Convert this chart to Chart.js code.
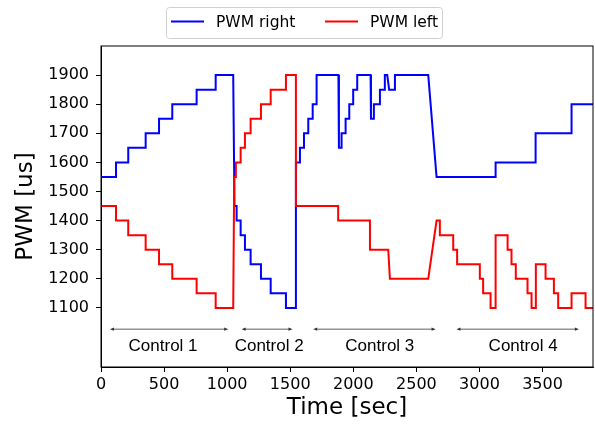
<!DOCTYPE html>
<html>
<head>
<meta charset="utf-8">
<script src="https://cdn.jsdelivr.net/npm/chart.js@4.4.1/dist/chart.umd.min.js"></script>
<style>
  html, body { margin: 0; padding: 0; background: #fff; }
  #pwmChart { display: block; }
</style>
</head>
<body>
<canvas id="pwmChart" width="595" height="424"></canvas>
<script>
// -------- DATA --------
const seriesNames = ['PWM right', 'PWM left'];
const seriesColors = ['#0000ff', '#ff0000'];

const rightTime = [0, 119, 119, 216, 216, 354, 354, 460, 460, 565, 565, 758, 758, 909, 909, 1048,
  1058, 1075, 1075, 1107, 1107, 1141, 1141, 1186, 1186, 1268, 1268, 1345, 1345, 1466, 1466, 1545,
  1545, 1577, 1577, 1609, 1609, 1643, 1643, 1678, 1678, 1709, 1709, 1882,
  1886, 1907, 1907, 1939, 1939, 1968, 1968, 1999, 1999, 2031, 2031, 2137,
  2140, 2163, 2163, 2211, 2211, 2250, 2250, 2269,
  2284, 2330, 2330, 2594,
  2660, 3128, 3128, 3445, 3445, 3730, 3730, 3900];
const rightPwm = [1550, 1550, 1600, 1600, 1650, 1650, 1700, 1700, 1750, 1750, 1800, 1800, 1850, 1850, 1900, 1900,
  1450, 1450, 1400, 1400, 1350, 1350, 1300, 1300, 1250, 1250, 1200, 1200, 1150, 1150, 1100, 1100,
  1600, 1600, 1650, 1650, 1700, 1700, 1750, 1750, 1800, 1800, 1900, 1900,
  1650, 1650, 1700, 1700, 1750, 1750, 1800, 1800, 1850, 1850, 1900, 1900,
  1750, 1750, 1800, 1800, 1850, 1850, 1900, 1900,
  1850, 1850, 1900, 1900,
  1550, 1550, 1600, 1600, 1700, 1700, 1800, 1800];

const leftTime = [0, 119, 119, 216, 216, 354, 354, 460, 460, 565, 565, 758, 758, 909, 909, 1048,
  1056, 1069, 1069, 1107, 1107, 1141, 1141, 1186, 1186, 1268, 1268, 1345, 1345, 1466, 1466, 1545,
  1545, 1880, 1880, 2132, 2132, 2277, 2290, 2594,
  2660, 2686, 2686, 2792, 2792, 2823, 2823, 3003, 3003, 3029, 3029, 3088, 3088, 3128,
  3128, 3223, 3223, 3254, 3254, 3288, 3288, 3381, 3381, 3413, 3413, 3447,
  3447, 3524, 3524, 3590, 3590, 3624, 3624, 3730, 3730, 3841, 3841, 3900];
const leftPwm = [1450, 1450, 1400, 1400, 1350, 1350, 1300, 1300, 1250, 1250, 1200, 1200, 1150, 1150, 1100, 1100,
  1550, 1550, 1600, 1600, 1650, 1650, 1700, 1700, 1750, 1750, 1800, 1800, 1850, 1850, 1900, 1900,
  1450, 1450, 1400, 1400, 1300, 1300, 1200, 1200,
  1400, 1400, 1350, 1350, 1300, 1300, 1250, 1250, 1200, 1200, 1150, 1150, 1100, 1100,
  1350, 1350, 1300, 1300, 1250, 1250, 1200, 1200, 1150, 1150, 1100, 1100,
  1250, 1250, 1200, 1200, 1150, 1150, 1100, 1100, 1150, 1150, 1100, 1100];

const xTicks = [0, 500, 1000, 1500, 2000, 2500, 3000, 3500];
const yTicks = [1100, 1200, 1300, 1400, 1500, 1600, 1700, 1800, 1900];

// control phases (time spans, label centre)
const controlLabels = ['Control 1', 'Control 2', 'Control 3', 'Control 4'];
const controlFrom = [71, 1115, 1682, 2818];
const controlTo = [1008, 1518, 2652, 3788];
const controlLabelX = [492, 1333, 2210, 3346];
const arrowLevel = 1027;
const labelLevel = 968;

const toPoints = (xs, ys) => xs.map((x, i) => ({ x, y: ys[i] }));

// -------- PLUGIN: spines, control arrows, boxed legend --------
const extras = {
  id: 'extras',
  afterDatasetsDraw(chart) {
    const { ctx, chartArea: a, scales: { x, y } } = chart;
    ctx.save();

    // control arrows
    ctx.strokeStyle = '#333';
    ctx.fillStyle = '#333';
    ctx.lineWidth = 0.8;
    const ay = y.getPixelForValue(arrowLevel);
    controlLabels.forEach((name, i) => {
      const x0 = x.getPixelForValue(controlFrom[i]);
      const x1 = x.getPixelForValue(controlTo[i]);
      ctx.beginPath();
      ctx.moveTo(x0 + 2, ay);
      ctx.lineTo(x1 - 2, ay);
      ctx.stroke();
      [[x0, 1], [x1, -1]].forEach(([px, d]) => {
        ctx.beginPath();
        ctx.moveTo(px, ay);
        ctx.lineTo(px + 4 * d, ay - 1.6);
        ctx.lineTo(px + 4 * d, ay + 1.6);
        ctx.closePath();
        ctx.fill();
      });
    });

    ctx.fillStyle = '#000';
    ctx.font = '17px "Liberation Sans", Arial, sans-serif';
    ctx.textAlign = 'center';
    ctx.textBaseline = 'middle';
    const ly = y.getPixelForValue(labelLevel);
    controlLabels.forEach((name, i) => {
      ctx.fillText(name, x.getPixelForValue(controlLabelX[i]), ly);
    });

    // frame
    ctx.strokeStyle = '#000';
    ctx.lineWidth = 1;
    ctx.strokeRect(a.left, a.top, a.right - a.left, a.bottom - a.top);
    ctx.restore();
  },
  afterDraw(chart) {
    const { ctx } = chart;
    ctx.save();
    // legend box
    const bx = 166.5, by = 7.5, bw = 276, bh = 31, r = 3;
    ctx.beginPath();
    ctx.moveTo(bx + r, by);
    ctx.arcTo(bx + bw, by, bx + bw, by + bh, r);
    ctx.arcTo(bx + bw, by + bh, bx, by + bh, r);
    ctx.arcTo(bx, by + bh, bx, by, r);
    ctx.arcTo(bx, by, bx + bw, by, r);
    ctx.closePath();
    ctx.fillStyle = 'rgba(255,255,255,0.8)';
    ctx.fill();
    ctx.strokeStyle = '#d0d0d0';
    ctx.lineWidth = 1;
    ctx.stroke();

    const ly = 21.5;
    const starts = [171, 325];
    ctx.font = '15.5px "DejaVu Sans", sans-serif';
    ctx.textBaseline = 'middle';
    ctx.textAlign = 'left';
    chart.data.datasets.forEach((ds) => {
      const i = seriesNames.indexOf(ds.label);
      const sx = starts[i];
      ctx.strokeStyle = ds.borderColor;
      ctx.lineWidth = 2;
      ctx.beginPath();
      ctx.moveTo(sx, ly);
      ctx.lineTo(sx + 33, ly);
      ctx.stroke();
      ctx.fillStyle = '#000';
      ctx.fillText(ds.label, sx + 45, ly + 1);
    });
    ctx.restore();
  }
};

// -------- CHART --------
const tickFont = { family: '"DejaVu Sans", sans-serif', size: 16 };
const titleFont = { family: '"DejaVu Sans", sans-serif', size: 23 };

new Chart(document.getElementById('pwmChart'), {
  type: 'line',
  data: {
    datasets: [
      {
        label: seriesNames[0],
        data: toPoints(rightTime, rightPwm),
        borderColor: seriesColors[0],
        borderWidth: 2,
        pointRadius: 0,
        tension: 0,
        order: 1
      },
      {
        label: seriesNames[1],
        data: toPoints(leftTime, leftPwm),
        borderColor: seriesColors[1],
        borderWidth: 2,
        pointRadius: 0,
        tension: 0,
        order: 0
      }
    ]
  },
  options: {
    responsive: false,
    animation: false,
    layout: { padding: { left: 0, right: 2, top: 46, bottom: 0 } },
    plugins: {
      legend: { display: false },
      tooltip: { enabled: false }
    },
    scales: {
      x: {
        type: 'linear',
        min: 0,
        max: 3900,
        afterBuildTicks: s => { s.ticks = xTicks.map(v => ({ value: v })); },
        afterFit: s => { s.height = 57; },
        grid: { display: true, drawOnChartArea: false, drawTicks: true, tickLength: 5, color: '#000' },
        border: { display: true, color: '#000', width: 1 },
        ticks: { color: '#000', font: tickFont, padding: 3, maxRotation: 0, callback: v => String(v) },
        title: { display: true, text: 'Time [sec]', color: '#000', font: titleFont, padding: { top: 0, bottom: 2 } }
      },
      y: {
        type: 'linear',
        min: 897,
        max: 2000,
        afterBuildTicks: s => { s.ticks = yTicks.map(v => ({ value: v })); },
        afterFit: s => { s.width = 101; },
        grid: { display: true, drawOnChartArea: false, drawTicks: true, tickLength: 5, color: '#000' },
        border: { display: true, color: '#000', width: 1 },
        ticks: { color: '#000', font: tickFont, padding: 7, callback: v => String(v) },
        title: { display: true, text: 'PWM [us]', color: '#000', font: titleFont, padding: { top: 12, bottom: 0 } }
      }
    }
  },
  plugins: [extras]
});
</script>
</body>
</html>
